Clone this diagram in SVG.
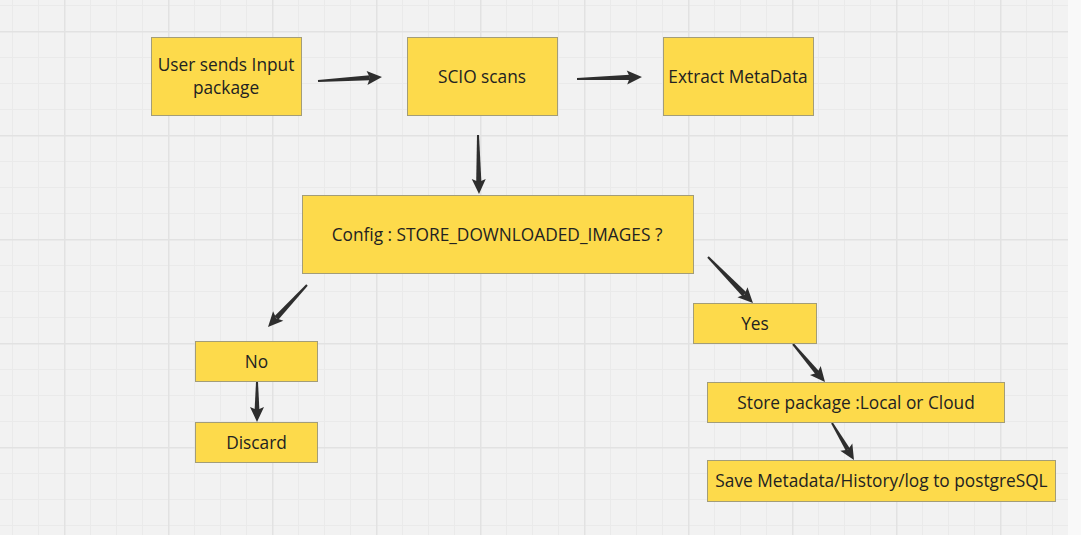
<svg xmlns="http://www.w3.org/2000/svg" xmlns:xlink="http://www.w3.org/1999/xlink" width="1081" height="535" viewBox="0 0 1081 535">
<style>
.box{fill:#fdda4b;stroke:#a39d78;stroke-width:1}
.lbl{font-family:"Open Sans","Noto Sans","Liberation Sans",sans-serif;font-size:17.3px;fill:#222;text-anchor:middle}
.arr{fill:#2e2e2e}
</style>
<defs>
<pattern id="grid" patternUnits="userSpaceOnUse" x="64" y="31" width="104" height="104">
<rect x="0" y="0" width="104" height="104" fill="#f2f2f2"/>
<rect x="26" y="0" width="1" height="104" fill="#eaeaea"/>
<rect x="52" y="0" width="1" height="104" fill="#eaeaea"/>
<rect x="78" y="0" width="1" height="104" fill="#eaeaea"/>
<rect x="0" y="26" width="104" height="1" fill="#eaeaea"/>
<rect x="0" y="52" width="104" height="1" fill="#eaeaea"/>
<rect x="0" y="78" width="104" height="1" fill="#eaeaea"/>
<rect x="0" y="0" width="1.5" height="104" fill="#e2e2e2"/>
<rect x="0" y="0" width="104" height="1.5" fill="#e2e2e2"/>
</pattern>
<path id="head" d="M0,0 L-15,-7 L-12,0 L-15,7 Z"/>
</defs>
<rect x="0" y="0" width="1081" height="535" fill="#f9f9f9"/>
<rect x="0" y="0" width="1068" height="535" fill="url(#grid)"/>

<g id="connectors" class="arr">
<g transform="translate(318,81) rotate(-3.58)"><polygon points="0,-1 52,-2.6 52,2.6 0,1"/><use xlink:href="#head" x="64.1"/></g>
<g transform="translate(577,79) rotate(-1.76)"><polygon points="0,-1 53,-2.6 53,2.6 0,1"/><use xlink:href="#head" x="65"/></g>
<g transform="translate(478,135) rotate(89.03)"><polygon points="0,-1 47,-2.6 47,2.6 0,1"/><use xlink:href="#head" x="59"/></g>
<g transform="translate(307,285) rotate(132.88)"><polygon points="0,-1 45,-2.6 45,2.6 0,1"/><use xlink:href="#head" x="57.3"/></g>
<g transform="translate(708,257) rotate(45.63)"><polygon points="0,-1 52,-2.8 52,2.8 0,1"/><use xlink:href="#head" x="64.3"/></g>
<g transform="translate(257,382) rotate(90)"><polygon points="0,-1 28,-2.4 28,2.4 0,1"/><use xlink:href="#head" x="40"/></g>
<g transform="translate(793,344) rotate(49.9)"><polygon points="0,-1 38,-2.4 38,2.4 0,1"/><use xlink:href="#head" x="49.7"/></g>
<g transform="translate(832,423) rotate(59.26)"><polygon points="0,-1 31,-2.4 31,2.4 0,1"/><use xlink:href="#head" x="43"/></g>
</g>

<g id="user-input"><rect class="box" x="151.5" y="37.5" width="150" height="78"/><text class="lbl" x="226" y="71">User sends Input</text><text class="lbl" x="226" y="94">package</text></g>
<g id="scio-scans"><rect class="box" x="407.5" y="37.5" width="150" height="78"/><text class="lbl" x="482" y="83">SCIO scans</text></g>
<g id="extract-metadata"><rect class="box" x="663.5" y="37.5" width="150" height="78"/><text class="lbl" x="738" y="83">Extract MetaData</text></g>
<g id="config"><rect class="box" x="302.5" y="195.5" width="391" height="78"/><text class="lbl" x="497" y="241">Config : STORE_DOWNLOADED_IMAGES ?</text></g>
<g id="no"><rect class="box" x="195.5" y="341.5" width="122" height="40"/><text class="lbl" x="256.5" y="368">No</text></g>
<g id="discard"><rect class="box" x="195.5" y="422.5" width="122" height="40"/><text class="lbl" x="256.5" y="449">Discard</text></g>
<g id="yes"><rect class="box" x="693.5" y="303.5" width="123" height="40"/><text class="lbl" x="755" y="330">Yes</text></g>
<g id="store-package"><rect class="box" x="707.5" y="382.5" width="297" height="40"/><text class="lbl" x="856" y="409">Store package :Local or Cloud</text></g>
<g id="save-metadata"><rect class="box" x="707.5" y="460.5" width="348" height="41"/><text class="lbl" x="881.5" y="487">Save Metadata/History/log to postgreSQL</text></g>
</svg>
